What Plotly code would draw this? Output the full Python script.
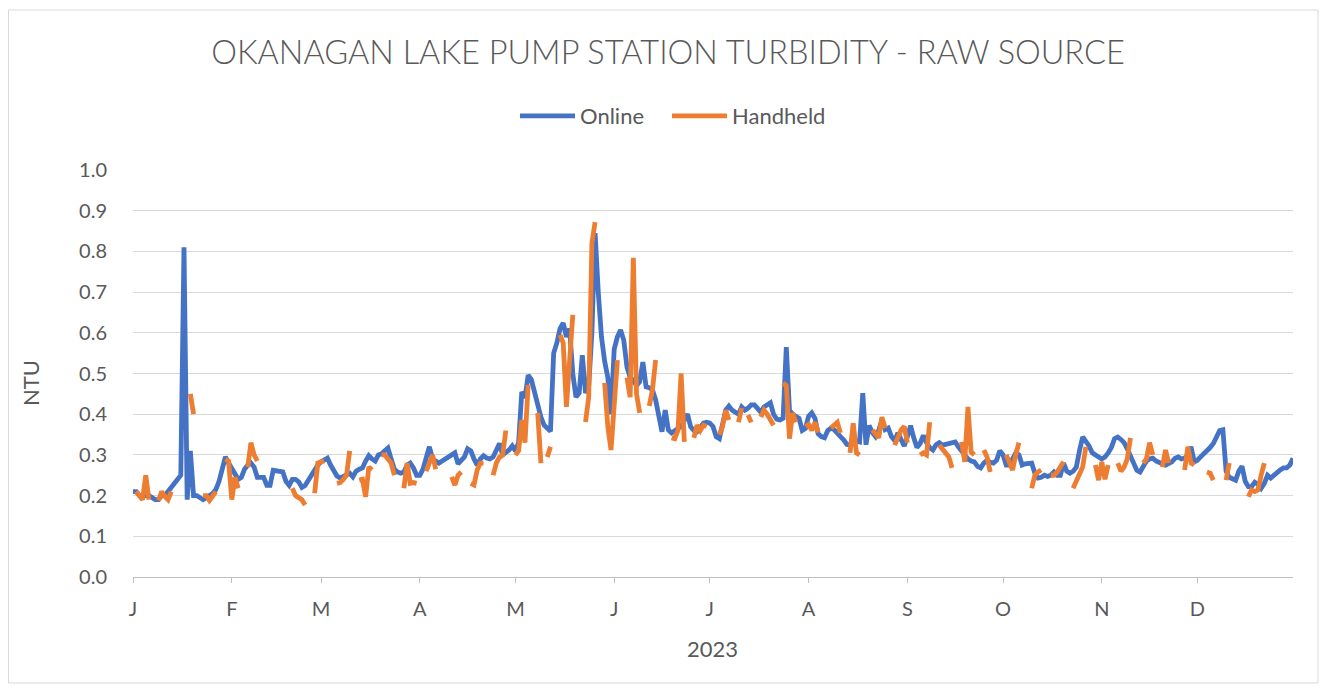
import pandas as pd
import plotly.graph_objects as go

N = None
dates = pd.date_range("2023-01-01", "2023-12-31", freq="D")

# ---- Online (daily) ----
on_jan = [0.21,0.21,0.20,0.20,0.20,0.20,0.195,0.19,0.19,0.20, 0.20,0.21,0.22,0.23,0.24,0.25,0.81,0.19,0.31,0.20,
          0.20,0.195,0.19,0.195,0.20,0.205,0.215,0.235,0.265,0.295, 0.28]
on_feb = [0.265,0.25,0.24,0.245,0.265,0.275,0.28,0.27,0.245,0.245, 0.245,0.225,0.225,0.262,0.26,0.258,0.258,0.235,0.225,0.24,
          0.24,0.234,0.22,0.225,0.238,0.25,0.265,0.275]
on_mar = [0.283,0.288,0.292,0.275,0.262,0.248,0.243,0.246,0.25,0.255, 0.246,0.26,0.265,0.268,0.285,0.298,0.29,0.285,0.30,0.303,
          0.31,0.317,0.29,0.265,0.258,0.255,0.258,0.275,0.28,0.268, 0.25]
on_apr = [0.25,0.265,0.29,0.32,0.29,0.285,0.28,0.285,0.29,0.295, 0.30,0.305,0.278,0.285,0.295,0.315,0.31,0.29,0.275,0.29,
          0.298,0.292,0.29,0.295,0.315,0.328,0.30,0.305,0.312,0.322]
on_may = [0.31,0.33,0.455,0.44,0.496,0.485,0.455,0.418,0.393,0.373, 0.366,0.358,0.55,0.575,0.61,0.624,0.59,0.61,0.50,0.442,
          0.452,0.545,0.452,0.47,0.60,0.845,0.70,0.59,0.53,0.49, 0.40]
on_jun = [0.56,0.59,0.607,0.582,0.516,0.49,0.484,0.47,0.48,0.528, 0.467,0.465,0.46,0.435,0.39,0.357,0.41,0.361,0.354,0.358,
          0.365,0.37,0.385,0.40,0.369,0.36,0.357,0.368,0.378,0.38]
on_jul = [0.378,0.37,0.345,0.34,0.38,0.41,0.42,0.41,0.405,0.40, 0.418,0.41,0.415,0.423,0.423,0.415,0.405,0.418,0.422,0.428,
          0.40,0.388,0.386,0.39,0.565,0.41,0.40,0.395,0.39,0.36, 0.365]
on_aug = [0.395,0.403,0.39,0.352,0.345,0.342,0.36,0.366,0.362,0.355, 0.345,0.337,0.326,0.324,0.33,0.334,0.332,0.452,0.325,0.372,
          0.355,0.345,0.36,0.386,0.362,0.366,0.345,0.335,0.354,0.335, 0.322]
on_sep = [0.345,0.372,0.342,0.318,0.328,0.348,0.33,0.318,0.312,0.325, 0.33,0.324,0.326,0.329,0.33,0.332,0.32,0.31,0.303,0.29,
          0.285,0.283,0.272,0.268,0.28,0.287,0.282,0.28,0.287,0.31]
on_oct = [0.30,0.275,0.275,0.29,0.305,0.30,0.275,0.278,0.28,0.28, 0.255,0.243,0.245,0.25,0.247,0.25,0.258,0.25,0.25,0.28,
          0.26,0.255,0.26,0.27,0.31,0.344,0.333,0.322,0.305,0.298, 0.295]
on_nov = [0.29,0.295,0.305,0.318,0.34,0.344,0.338,0.33,0.315,0.295, 0.275,0.262,0.258,0.27,0.285,0.29,0.292,0.285,0.283,0.278,
          0.275,0.28,0.283,0.292,0.295,0.29,0.292,0.30,0.32,0.283]
on_dec = [0.287,0.295,0.302,0.312,0.318,0.328,0.342,0.36,0.362,0.26, 0.245,0.24,0.238,0.26,0.272,0.235,0.222,0.222,0.233,0.228,
          0.218,0.23,0.25,0.243,0.25,0.258,0.263,0.268,0.268,0.275, 0.292]

# ---- Handheld (weekday grab samples, gaps = no sample) ----
hh_jan = [N,0.21,0.20,0.19,0.25,0.19,N,N,0.188,0.21, 0.198,0.19,0.21,N,N,N,N,N,0.45,0.40,
          N,N,0.20,0.20,0.188,0.20,0.21,N,N,0.29, 0.285]
hh_feb = [0.19,0.245,0.218,N,N,0.27,0.33,0.30,0.285,N, N,N,N,N,N,N,N,N,N,0.218,
          0.20,0.195,0.19,0.177,N,N,0.206,0.28]
hh_mar = [0.283,0.285,N,N,N,0.23,0.232,0.24,0.25,0.31, N,N,0.238,0.24,0.197,0.27,0.263,N,N,0.30,
          0.30,0.29,0.28,0.25,N,N,0.218,0.28,0.23,0.232, 0.23]
hh_apr = [N,N,0.26,0.28,0.30,0.265,N,N,N,N, 0.246,0.226,0.25,0.258,N,N,0.23,0.226,0.263,0.28,
          0.28,N,N,0.25,0.28,0.295,0.30,0.36,N,N]
hh_may = [0.30,0.31,0.386,0.33,0.472,N,N,0.403,0.28,N, 0.295,0.32,N,N,0.595,0.575,0.418,0.52,0.644,N,
          N,N,0.381,0.442,0.82,0.872,N,N,0.477,0.369, 0.312]
hh_jun = [0.42,0.533,N,N,0.49,0.442,0.784,0.45,0.403,N, N,0.42,0.46,0.533,N,N,N,N,0.342,0.34,
          0.36,0.50,0.332,N,N,0.342,0.373,0.36,0.373,0.37]
hh_jul = [N,N,N,0.35,0.37,0.41,0.386,N,N,0.38, 0.415,N,0.398,0.38,N,N,0.393,0.41,0.40,0.385,
          0.373,N,N,0.477,0.47,0.34,0.403,0.38,N,N, 0.37]
hh_aug = [0.375,0.36,0.38,0.355,N,N,N,0.366,0.372,0.38, 0.354,N,N,0.305,0.378,0.305,0.30,N,N,N,
          0.361,0.35,0.342,0.393,0.366,N,N,0.324,0.34,0.361, 0.37]
hh_sep = [0.33,N,N,N,0.30,0.305,0.30,0.38,N,N, 0.324,0.315,0.307,0.295,0.268,N,N,0.332,0.283,0.418,
          0.307,0.30,N,N,0.312,0.295,0.258,N,N,N]
hh_oct = [N,0.30,0.28,0.263,0.30,0.33,N,N,N,0.218, 0.25,0.258,0.263,N,N,0.25,0.25,0.258,0.27,0.283,
          N,N,0.218,0.238,0.255,0.27,0.32,N,N,0.275, 0.238]
hh_nov = [0.283,0.24,0.275,N,N,0.28,0.26,0.27,0.29,0.342, N,N,N,0.28,0.29,0.33,0.30,N,N,0.27,
          0.312,0.28,N,N,N,N,0.263,0.32,0.28,0.275]
hh_dec = [N,N,N,0.258,0.255,0.238,N,N,N,0.238, 0.28,N,N,N,N,N,0.197,0.214,0.21,0.214,
          0.25,0.28,N,N,N,N,N,N,N,N, N]

online = on_jan + on_feb + on_mar + on_apr + on_may + on_jun + on_jul + on_aug + on_sep + on_oct + on_nov + on_dec
handheld = hh_jan + hh_feb + hh_mar + hh_apr + hh_may + hh_jun + hh_jul + hh_aug + hh_sep + hh_oct + hh_nov + hh_dec

month_ticks = pd.date_range("2023-01-01", "2023-12-01", freq="MS")
month_labels = ["J", "F", "M", "A", "M", "J", "J", "A", "S", "O", "N", "D"]

BLUE = "#4472C4"
ORANGE = "#ED7D31"
GREY = "#595959"
FONT = "Lato"

# page has an 8px body margin; figure sits at (8, 8)
OFF = 8
W, H = 1311, 676
# plot area in page pixels
L, R, T, B = 133, 1293, 170, 577

def px_x(x):
    return (x - L) / (R - L)

def px_y(y):
    return (B - y) / (B - T)

fig = go.Figure()
fig.add_trace(go.Scatter(x=dates, y=online, name="Online", mode="lines",
                         line=dict(color=BLUE, width=4.8), connectgaps=False,
                         legendwidth=82))
fig.add_trace(go.Scatter(x=dates, y=handheld, name="Handheld", mode="lines",
                         line=dict(color=ORANGE, width=4.8), connectgaps=False,
                         legendwidth=110))

fig.update_layout(
    width=W, height=H,
    margin=dict(l=L - OFF, r=W - (R - OFF), t=T - OFF, b=H - (B - OFF), pad=0),
    paper_bgcolor="white", plot_bgcolor="white",
    font=dict(family=FONT, color=GREY, size=20),
    title=dict(text="OKANAGAN LAKE PUMP STATION TURBIDITY - RAW SOURCE",
               x=(668 - OFF) / W, xanchor="center", y=1 - (53 - OFF) / H, yanchor="middle",
               font=dict(family=FONT, size=32.5, color=GREY, weight=300)),
    legend=dict(orientation="h", x=px_x(681), xanchor="center",
                y=px_y(116), yanchor="middle",
                font=dict(size=22, color=GREY), itemwidth=55),
    showlegend=True,
)
fig.update_xaxes(
    type="date", range=["2023-01-01", "2023-12-31"],
    tickvals=month_ticks, ticktext=month_labels,
    showgrid=False, zeroline=False,
    showline=True, linecolor="#bfbfbf", linewidth=1,
    ticks="outside", ticklen=5, tickcolor="#bfbfbf",
    ticklabelstandoff=9,
    tickfont=dict(size=20, color=GREY),
)
fig.update_yaxes(
    range=[0, 1.0], dtick=0.1, tickformat=".1f",
    showgrid=True, gridcolor="#d9d9d9", gridwidth=1,
    zeroline=False, showline=False,
    ticks="outside", ticklen=21, tickcolor="rgba(0,0,0,0)",
    tickfont=dict(size=20, color=GREY),
)
fig.add_annotation(text="NTU", xref="paper", yref="paper", x=px_x(30), y=px_y(383),
                   textangle=-90, showarrow=False, font=dict(size=22, color=GREY),
                   xanchor="center", yanchor="middle")
fig.add_annotation(text="2023", xref="paper", yref="paper", x=px_x(712), y=px_y(648),
                   showarrow=False, font=dict(size=22, color=GREY),
                   xanchor="center", yanchor="middle")
fig.add_shape(type="rect", xref="paper", yref="paper",
              x0=px_x(8.5), x1=px_x(1318), y0=px_y(683), y1=px_y(10),
              line=dict(color="#d9d9d9", width=1), fillcolor="rgba(0,0,0,0)", layer="below")

fig.write_html("out.html")
